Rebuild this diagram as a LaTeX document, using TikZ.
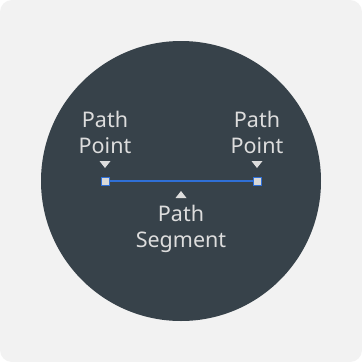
\documentclass[tikz,border=0pt]{standalone}
\usepackage{fontspec}
\setmainfont{Noto Sans}
\definecolor{bgc}{HTML}{F2F2F2}
\definecolor{disc}{HTML}{37424A}
\definecolor{txt}{HTML}{DDDDDD}
\definecolor{blu}{HTML}{2F6FD6}
\definecolor{sqf}{HTML}{D8D8D8}
\begin{document}
\begin{tikzpicture}[x=1pt,y=-1pt,
  lbl/.style={text=txt, align=center, inner sep=0pt, anchor=base,
    font=\fontsize{21.5}{26}\selectfont},
  pt/.style={draw=blu, fill=sqf, line width=1pt, minimum size=8pt, inner sep=0pt},
  seg/.style={draw=blu, line width=2pt},
  tri/.style={fill=txt, draw=none}]
\useasboundingbox (0,0) rectangle (362,362);
\fill[white] (0,0) rectangle (362,362);
\fill[bgc, rounded corners=12pt] (0,0) rectangle (362,362);
\fill[disc] (181,181) circle[radius=140];
\node[lbl] (lp) at (105,153) {Path\\Point};
\node[lbl] (rp) at (257,153) {Path\\Point};
\node[lbl] (sg) at (181,247.5) {Path\\Segment};
\coordinate (a) at (105,181);
\coordinate (b) at (257,181);
\draw[seg] (a) -- (b);
\node[pt] (pa) at (a) {};
\node[pt] (pb) at (b) {};
\fill[tri] (99.5,161) -- (110.5,161) -- (105,168) -- cycle;
\fill[tri] (251.5,161) -- (262.5,161) -- (257,168) -- cycle;
\fill[tri] (175.5,198) -- (186.5,198) -- (181,191) -- cycle;
\end{tikzpicture}
\end{document}
